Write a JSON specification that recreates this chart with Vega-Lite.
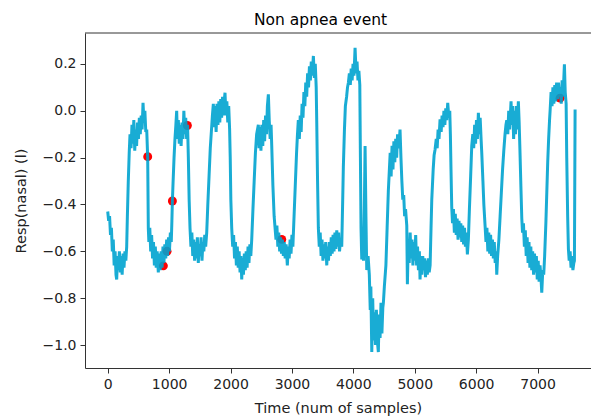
{
"$schema": "https://vega.github.io/schema/vega-lite/v6.json",
"width": 506, "height": 335,
"autosize": {"type": "none"},
"padding": {"left": 85, "top": 33, "right": 0, "bottom": 51},
"config": {"view": {"stroke": null}, "font": "DejaVu Sans"},
"title": {"text": "Non apnea event", "anchor": "start", "dx": 241, "offset": 4, "fontSize": 15.5, "fontWeight": "normal", "font": "DejaVu Sans", "color": "#000"},
"datasets": {
"sig": [
{"t":0,"v":-0.43},{"t":15,"v":-0.47},{"t":30,"v":-0.45},{"t":45,"v":-0.53},{"t":60,"v":-0.5},{"t":75,"v":-0.6},{"t":90,"v":-0.55},{"t":105,"v":-0.66},{"t":120,"v":-0.6},{"t":135,"v":-0.7},{"t":146,"v":-0.72},{"t":160,"v":-0.62},{"t":175,"v":-0.68},{"t":190,"v":-0.6},{"t":205,"v":-0.69},{"t":220,"v":-0.62},{"t":235,"v":-0.7},{"t":250,"v":-0.61},{"t":265,"v":-0.67},{"t":280,"v":-0.6},{"t":295,"v":-0.64},{"t":309,"v":-0.58},
{"t":320,"v":-0.45},{"t":335,"v":-0.3},{"t":350,"v":-0.18},{"t":363,"v":-0.1},
{"t":380,"v":-0.16},{"t":395,"v":-0.06},{"t":410,"v":-0.14},{"t":425,"v":-0.04},{"t":440,"v":-0.17},{"t":455,"v":-0.08},{"t":470,"v":-0.15},{"t":485,"v":-0.05},{"t":500,"v":-0.12},{"t":515,"v":-0.03},{"t":530,"v":-0.1},{"t":545,"v":-0.02},{"t":560,"v":-0.08},{"t":575,"v":0.034},{"t":590,"v":-0.05},{"t":605,"v":0.0},{"t":620,"v":-0.09},
{"t":635,"v":-0.08},{"t":651,"v":-0.2},{"t":661,"v":-0.5},
{"t":670,"v":-0.56},{"t":685,"v":-0.5},{"t":700,"v":-0.6},{"t":715,"v":-0.53},{"t":730,"v":-0.63},{"t":745,"v":-0.56},{"t":760,"v":-0.66},{"t":775,"v":-0.58},{"t":790,"v":-0.67},{"t":805,"v":-0.6},{"t":824,"v":-0.69},{"t":840,"v":-0.61},{"t":855,"v":-0.68},{"t":870,"v":-0.6},{"t":885,"v":-0.67},{"t":900,"v":-0.58},{"t":915,"v":-0.65},{"t":930,"v":-0.57},{"t":945,"v":-0.63},{"t":960,"v":-0.55},{"t":975,"v":-0.62},{"t":990,"v":-0.54},{"t":1005,"v":-0.6},{"t":1020,"v":-0.52},{"t":1035,"v":-0.56},
{"t":1045,"v":-0.47},{"t":1053,"v":-0.385},{"t":1065,"v":-0.3},{"t":1080,"v":-0.2},{"t":1095,"v":-0.12},{"t":1110,"v":-0.06},{"t":1123,"v":0.0},
{"t":1135,"v":-0.12},{"t":1150,"v":-0.04},{"t":1165,"v":-0.14},{"t":1180,"v":-0.06},{"t":1195,"v":-0.15},{"t":1210,"v":-0.05},{"t":1225,"v":-0.12},{"t":1240,"v":0.0},{"t":1255,"v":-0.1},{"t":1270,"v":-0.03},{"t":1285,"v":-0.12},{"t":1300,"v":-0.06},
{"t":1313,"v":-0.2},{"t":1326,"v":-0.38},{"t":1340,"v":-0.5},
{"t":1355,"v":-0.58},{"t":1370,"v":-0.52},{"t":1385,"v":-0.62},{"t":1400,"v":-0.55},{"t":1415,"v":-0.64},{"t":1430,"v":-0.56},{"t":1445,"v":-0.63},{"t":1460,"v":-0.54},{"t":1475,"v":-0.65},{"t":1490,"v":-0.57},{"t":1505,"v":-0.62},{"t":1520,"v":-0.54},{"t":1535,"v":-0.64},{"t":1550,"v":-0.56},{"t":1565,"v":-0.6},{"t":1580,"v":-0.53},{"t":1595,"v":-0.58},{"t":1612,"v":-0.52},
{"t":1630,"v":-0.4},{"t":1650,"v":-0.28},{"t":1670,"v":-0.16},{"t":1690,"v":-0.08},{"t":1705,"v":-0.02},{"t":1720,"v":0.03},
{"t":1735,"v":-0.07},{"t":1750,"v":0.02},{"t":1765,"v":-0.09},{"t":1780,"v":0.03},{"t":1795,"v":-0.06},{"t":1810,"v":0.04},{"t":1825,"v":-0.05},{"t":1840,"v":0.05},{"t":1855,"v":-0.03},{"t":1870,"v":0.06},{"t":1885,"v":-0.02},{"t":1900,"v":0.05},{"t":1910,"v":0.077},{"t":1925,"v":-0.02},{"t":1940,"v":0.04},{"t":1955,"v":-0.05},{"t":1970,"v":0.02},{"t":1985,"v":-0.08},
{"t":1995,"v":-0.2},{"t":2005,"v":-0.38},{"t":2019,"v":-0.5},
{"t":2035,"v":-0.58},{"t":2050,"v":-0.53},{"t":2065,"v":-0.63},{"t":2080,"v":-0.56},{"t":2095,"v":-0.66},{"t":2110,"v":-0.58},{"t":2125,"v":-0.67},{"t":2140,"v":-0.6},{"t":2155,"v":-0.69},{"t":2170,"v":-0.62},{"t":2182,"v":-0.72},{"t":2195,"v":-0.63},{"t":2210,"v":-0.7},{"t":2225,"v":-0.61},{"t":2240,"v":-0.68},{"t":2255,"v":-0.6},{"t":2270,"v":-0.67},{"t":2285,"v":-0.58},{"t":2300,"v":-0.65},{"t":2315,"v":-0.57},{"t":2330,"v":-0.62},{"t":2345,"v":-0.55},
{"t":2365,"v":-0.42},{"t":2385,"v":-0.3},{"t":2405,"v":-0.18},{"t":2425,"v":-0.1},{"t":2453,"v":-0.06},
{"t":2465,"v":-0.16},{"t":2480,"v":-0.07},{"t":2495,"v":-0.17},{"t":2510,"v":-0.06},{"t":2525,"v":-0.15},{"t":2540,"v":-0.04},{"t":2555,"v":-0.13},{"t":2570,"v":-0.02},{"t":2585,"v":-0.1},{"t":2600,"v":0.02},{"t":2616,"v":0.07},{"t":2630,"v":-0.04},{"t":2645,"v":-0.12},{"t":2660,"v":-0.06},
{"t":2671,"v":-0.15},{"t":2690,"v":-0.32},{"t":2710,"v":-0.45},{"t":2725,"v":-0.5},
{"t":2740,"v":-0.55},{"t":2755,"v":-0.49},{"t":2770,"v":-0.58},{"t":2785,"v":-0.52},{"t":2800,"v":-0.6},{"t":2815,"v":-0.54},{"t":2830,"v":-0.61},{"t":2845,"v":-0.55},{"t":2860,"v":-0.62},{"t":2875,"v":-0.56},{"t":2890,"v":-0.63},{"t":2905,"v":-0.57},{"t":2925,"v":-0.66},{"t":2940,"v":-0.58},{"t":2955,"v":-0.63},{"t":2970,"v":-0.55},{"t":2985,"v":-0.61},{"t":3000,"v":-0.53},{"t":3015,"v":-0.58},
{"t":3030,"v":-0.48},{"t":3045,"v":-0.38},{"t":3060,"v":-0.28},{"t":3075,"v":-0.18},{"t":3090,"v":-0.1},{"t":3104,"v":-0.04},
{"t":3120,"v":-0.12},{"t":3135,"v":-0.02},{"t":3150,"v":-0.09},{"t":3165,"v":0.03},{"t":3180,"v":-0.03},{"t":3195,"v":0.08},{"t":3210,"v":0.02},{"t":3225,"v":0.12},{"t":3240,"v":0.06},{"t":3255,"v":0.16},{"t":3270,"v":0.1},{"t":3285,"v":0.19},{"t":3300,"v":0.13},{"t":3315,"v":0.21},{"t":3330,"v":0.15},{"t":3349,"v":0.234},{"t":3365,"v":0.14},{"t":3380,"v":0.2},{"t":3395,"v":0.1},
{"t":3404,"v":-0.05},{"t":3417,"v":-0.3},{"t":3430,"v":-0.5},
{"t":3445,"v":-0.58},{"t":3460,"v":-0.52},{"t":3475,"v":-0.62},{"t":3490,"v":-0.55},{"t":3505,"v":-0.64},{"t":3520,"v":-0.57},{"t":3535,"v":-0.63},{"t":3550,"v":-0.56},{"t":3567,"v":-0.66},{"t":3580,"v":-0.58},{"t":3595,"v":-0.64},{"t":3610,"v":-0.56},{"t":3625,"v":-0.62},{"t":3640,"v":-0.54},{"t":3655,"v":-0.61},{"t":3670,"v":-0.53},{"t":3685,"v":-0.6},{"t":3700,"v":-0.52},{"t":3715,"v":-0.59},{"t":3730,"v":-0.51},{"t":3745,"v":-0.58},{"t":3760,"v":-0.52},{"t":3775,"v":-0.6},{"t":3790,"v":-0.55},{"t":3811,"v":-0.58},
{"t":3825,"v":-0.4},{"t":3837,"v":-0.24},{"t":3855,"v":-0.08},{"t":3870,"v":0.02},{"t":3890,"v":0.06},{"t":3905,"v":0.1},{"t":3919,"v":0.12},
{"t":3935,"v":0.16},{"t":3950,"v":0.11},{"t":3965,"v":0.18},{"t":3980,"v":0.13},{"t":3995,"v":0.2},{"t":4010,"v":0.15},{"t":4028,"v":0.269},{"t":4045,"v":0.16},{"t":4060,"v":0.21},{"t":4075,"v":0.13},{"t":4090,"v":0.17},{"t":4105,"v":0.11},
{"t":4115,"v":-0.2},{"t":4125,"v":-0.5},{"t":4137,"v":-0.635},{"t":4150,"v":-0.55},{"t":4165,"v":-0.64},
{"t":4180,"v":-0.4},{"t":4191,"v":-0.15},{"t":4205,"v":-0.45},{"t":4218,"v":-0.68},{"t":4240,"v":-0.62},{"t":4260,"v":-0.7},
{"t":4275,"v":-0.85},{"t":4285,"v":-0.75},{"t":4300,"v":-1.03},{"t":4315,"v":-0.8},{"t":4330,"v":-0.98},{"t":4345,"v":-0.86},{"t":4360,"v":-1.0},{"t":4375,"v":-0.85},{"t":4390,"v":-0.98},{"t":4407,"v":-1.03},{"t":4420,"v":-0.87},{"t":4435,"v":-0.97},{"t":4450,"v":-0.82},{"t":4465,"v":-0.95},{"t":4480,"v":-0.84},{"t":4489,"v":-0.82},
{"t":4505,"v":-0.75},{"t":4530,"v":-0.66},{"t":4550,"v":-0.5},{"t":4570,"v":-0.34},
{"t":4585,"v":-0.26},{"t":4600,"v":-0.18},{"t":4615,"v":-0.28},{"t":4630,"v":-0.15},{"t":4645,"v":-0.25},{"t":4660,"v":-0.13},{"t":4675,"v":-0.22},{"t":4690,"v":-0.12},{"t":4705,"v":-0.2},{"t":4720,"v":-0.1},{"t":4740,"v":-0.16},{"t":4760,"v":-0.08},{"t":4775,"v":-0.2},
{"t":4790,"v":-0.3},{"t":4805,"v":-0.38},{"t":4820,"v":-0.36},{"t":4835,"v":-0.45},{"t":4850,"v":-0.42},{"t":4870,"v":-0.49},
{"t":4880,"v":-0.74},{"t":4895,"v":-0.55},{"t":4910,"v":-0.65},{"t":4925,"v":-0.52},{"t":4940,"v":-0.63},{"t":4955,"v":-0.55},{"t":4970,"v":-0.66},{"t":4985,"v":-0.56},{"t":5000,"v":-0.64},{"t":5015,"v":-0.53},{"t":5030,"v":-0.66},{"t":5045,"v":-0.58},{"t":5060,"v":-0.68},{"t":5075,"v":-0.6},{"t":5086,"v":-0.72},{"t":5100,"v":-0.62},{"t":5115,"v":-0.7},{"t":5130,"v":-0.62},{"t":5145,"v":-0.68},{"t":5160,"v":-0.63},{"t":5175,"v":-0.71},{"t":5190,"v":-0.64},{"t":5205,"v":-0.7},{"t":5220,"v":-0.63},{"t":5235,"v":-0.69},{"t":5250,"v":-0.66},
{"t":5265,"v":-0.5},{"t":5277,"v":-0.38},{"t":5300,"v":-0.25},{"t":5315,"v":-0.19},{"t":5331,"v":-0.165},{"t":5350,"v":-0.12},{"t":5365,"v":-0.16},{"t":5380,"v":-0.08},{"t":5395,"v":-0.12},{"t":5412,"v":-0.037},{"t":5430,"v":-0.09},{"t":5445,"v":-0.02},{"t":5460,"v":-0.07},{"t":5475,"v":0.0},{"t":5490,"v":-0.06},{"t":5505,"v":0.01},{"t":5520,"v":-0.04},{"t":5537,"v":0.034},{"t":5555,"v":-0.03},{"t":5570,"v":0.0},
{"t":5580,"v":-0.1},{"t":5590,"v":-0.25},{"t":5602,"v":-0.41},
{"t":5615,"v":-0.48},{"t":5630,"v":-0.42},{"t":5645,"v":-0.52},{"t":5660,"v":-0.44},{"t":5675,"v":-0.53},{"t":5690,"v":-0.46},{"t":5705,"v":-0.55},{"t":5720,"v":-0.47},{"t":5735,"v":-0.54},{"t":5750,"v":-0.48},{"t":5765,"v":-0.56},{"t":5780,"v":-0.49},{"t":5795,"v":-0.57},{"t":5810,"v":-0.5},{"t":5825,"v":-0.58},{"t":5840,"v":-0.52},{"t":5857,"v":-0.613},{"t":5873,"v":-0.55},
{"t":5890,"v":-0.42},{"t":5910,"v":-0.28},{"t":5928,"v":-0.15},
{"t":5945,"v":-0.1},{"t":5960,"v":-0.16},{"t":5975,"v":-0.06},{"t":5990,"v":-0.14},{"t":6005,"v":-0.04},{"t":6020,"v":-0.12},{"t":6036,"v":-0.009},{"t":6050,"v":-0.1},{"t":6065,"v":-0.03},{"t":6080,"v":-0.12},{"t":6091,"v":-0.18},
{"t":6110,"v":-0.3},{"t":6125,"v":-0.4},{"t":6145,"v":-0.49},
{"t":6160,"v":-0.56},{"t":6175,"v":-0.5},{"t":6190,"v":-0.6},{"t":6205,"v":-0.52},{"t":6220,"v":-0.61},{"t":6235,"v":-0.53},{"t":6250,"v":-0.62},{"t":6265,"v":-0.55},{"t":6280,"v":-0.63},{"t":6295,"v":-0.56},{"t":6310,"v":-0.65},{"t":6325,"v":-0.6},{"t":6335,"v":-0.7},{"t":6350,"v":-0.62},
{"t":6370,"v":-0.55},{"t":6390,"v":-0.45},{"t":6410,"v":-0.35},{"t":6430,"v":-0.25},{"t":6450,"v":-0.17},{"t":6470,"v":-0.1},{"t":6485,"v":-0.06},{"t":6498,"v":-0.04},
{"t":6515,"v":-0.1},{"t":6530,"v":0.0},{"t":6545,"v":-0.08},{"t":6568,"v":0.04},{"t":6580,"v":-0.06},{"t":6595,"v":0.02},{"t":6610,"v":-0.12},{"t":6625,"v":0.0},{"t":6640,"v":-0.1},{"t":6655,"v":0.02},{"t":6670,"v":-0.08},{"t":6687,"v":0.04},{"t":6700,"v":-0.05},
{"t":6713,"v":-0.17},{"t":6728,"v":-0.32},{"t":6743,"v":-0.46},
{"t":6755,"v":-0.52},{"t":6770,"v":-0.48},{"t":6785,"v":-0.58},{"t":6800,"v":-0.51},{"t":6815,"v":-0.62},{"t":6830,"v":-0.54},{"t":6845,"v":-0.65},{"t":6860,"v":-0.56},{"t":6875,"v":-0.67},{"t":6890,"v":-0.58},{"t":6905,"v":-0.68},{"t":6920,"v":-0.6},{"t":6935,"v":-0.7},{"t":6950,"v":-0.61},{"t":6965,"v":-0.69},{"t":6980,"v":-0.62},{"t":6995,"v":-0.72},{"t":7010,"v":-0.64},{"t":7025,"v":-0.73},{"t":7040,"v":-0.66},{"t":7055,"v":-0.71},{"t":7068,"v":-0.776},{"t":7085,"v":-0.68},{"t":7100,"v":-0.7},{"t":7115,"v":-0.62},
{"t":7135,"v":-0.48},{"t":7150,"v":-0.35},{"t":7165,"v":-0.22},{"t":7180,"v":-0.12},{"t":7195,"v":-0.04},{"t":7204,"v":0.0},
{"t":7220,"v":0.08},{"t":7235,"v":0.02},{"t":7250,"v":0.1},{"t":7265,"v":0.03},{"t":7280,"v":0.11},{"t":7295,"v":0.04},{"t":7310,"v":0.12},{"t":7325,"v":0.05},{"t":7340,"v":0.12},{"t":7355,"v":0.06},{"t":7370,"v":0.1},{"t":7385,"v":0.03},{"t":7400,"v":0.13},{"t":7415,"v":0.06},{"t":7437,"v":0.198},{"t":7450,"v":0.08},{"t":7465,"v":0.03},
{"t":7475,"v":-0.2},{"t":7490,"v":-0.45},{"t":7502,"v":-0.59},{"t":7515,"v":-0.64},{"t":7530,"v":-0.6},{"t":7545,"v":-0.67},{"t":7560,"v":-0.62},{"t":7575,"v":-0.68},{"t":7590,"v":-0.65},{"t":7600,"v":-0.64},{"t":7611,"v":0.005}
],
"pts": [
{"t":651,"v":-0.196},{"t":1053,"v":-0.385},{"t":1297,"v":-0.063},{"t":966,"v":-0.6},{"t":906,"v":-0.662},{"t":2834,"v":-0.549},{"t":7366,"v":0.054}
],
"top": [{"v": 0.332}]
},
"layer": [
{"data": {"name": "top"},
 "mark": {"type": "rule", "color": "#333", "strokeWidth": 1},
 "encoding": {"y": {"field": "v", "type": "quantitative"}}},
{"data": {"name": "pts"},
 "mark": {"type": "circle", "color": "#ff0000", "opacity": 1, "size": 80},
 "encoding": {
  "x": {"field": "t", "type": "quantitative"},
  "y": {"field": "v", "type": "quantitative"}}},
{"data": {"name": "sig"},
 "mark": {"type": "line", "color": "#00a3cf", "strokeWidth": 3, "opacity": 0.9, "strokeJoin": "miter"},
 "encoding": {
  "x": {"field": "t", "type": "quantitative",
        "scale": {"domain": [-370, 7870], "nice": false, "zero": false},
        "axis": {"title": "Time (num of samples)", "values": [0,1000,2000,3000,4000,5000,6000,7000], "format": "d", "grid": false,
                 "domainColor": "#333", "tickColor": "#333", "tickSize": 5, "labelPadding": 4, "labelFontSize": 14, "labelColor": "#222", "labelFont": "DejaVu Sans",
                 "titleFontSize": 14.5, "titleFontWeight": "normal", "titleColor": "#222", "titleFont": "DejaVu Sans", "titlePadding": 10}},
  "y": {"field": "v", "type": "quantitative",
        "scale": {"domain": [-1.098, 0.332], "nice": false, "zero": false},
        "axis": {"title": "Resp(nasal) (l)", "values": [-1,-0.8,-0.6,-0.4,-0.2,0,0.2], "format": ".1f", "grid": false,
                 "domainColor": "#333", "tickColor": "#333", "tickSize": 5, "labelPadding": 4, "labelFontSize": 14, "labelColor": "#222", "labelFont": "DejaVu Sans",
                 "titleFontSize": 14.5, "titleFontWeight": "normal", "titleColor": "#222", "titleFont": "DejaVu Sans", "titlePadding": 14}}
 }}
]
}
